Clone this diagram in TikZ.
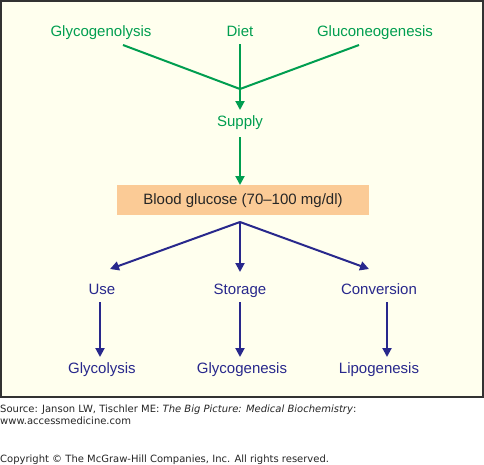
\documentclass[tikz,border=0pt]{standalone}
\usepackage{fontspec}
\setmainfont{Liberation Sans}
\newfontfamily\verd{DejaVu Sans}
\usetikzlibrary{arrows.meta}
\definecolor{gr}{RGB}{0,158,80}
\definecolor{bl}{RGB}{40,40,140}
\definecolor{bgy}{RGB}{255,255,238}
\definecolor{peach}{RGB}{251,203,150}
\definecolor{frm}{RGB}{50,50,50}
\begin{document}
\begin{tikzpicture}[x=1pt,y=-1pt,
  gtxt/.style={text=gr,font=\fontsize{15}{17}\selectfont,inner sep=1pt,anchor=base},
  btxt/.style={text=bl,font=\fontsize{15}{17}\selectfont,inner sep=1pt,anchor=base},
  garr/.style={draw=gr,line width=2pt,-{Triangle[length=9pt,width=9pt]}},
  gline/.style={draw=gr,line width=2pt},
  barr/.style={draw=bl,line width=2pt,-{Triangle[length=9pt,width=9pt]}},
  note/.style={anchor=base west,font=\verd\fontsize{10}{12}\selectfont,inner sep=0pt,text=black!85}]
\useasboundingbox (0,0) rectangle (484,464);
\fill[white] (0,0) rectangle (484,464);
\draw[frm,line width=2pt,fill=bgy] (1,1) rectangle (483,397);
% top
\node[gtxt] (glgn) at (101,36) {Glycogenolysis};
\node[gtxt] (diet) at (240,36) {Diet};
\node[gtxt] (glng) at (375,36) {Gluconeogenesis};
\coordinate (a1) at (123,45);
\coordinate (a2) at (359,45);
\coordinate (a3) at (240,44);
\coordinate (j) at (240,89);
\coordinate (s1) at (240,110);
\node[gtxt] (sup) at (240,126) {Supply};
\draw[gline] (a1) -- (j) -- (a2);
\draw[garr] (a3) -- (s1);
\node[draw=none,fill=peach,minimum width=252pt,minimum height=30pt,inner sep=0pt,
  font=\fontsize{15}{17}\selectfont,text=black!85,text height=11pt,text depth=3pt] (bg) at (243,200) {Blood glucose (70–100 mg/dl)};
\coordinate (s0) at (240,137);
\coordinate (s2) at (240,185);
\draw[garr] (s0) -- (s2);
% bottom
\coordinate (k) at (240,222);
\node[btxt] (use) at (102,294) {Use};
\node[btxt] (sto) at (240,294) {Storage};
\node[btxt] (con) at (379,294) {Conversion};
\coordinate (t1) at (110,269);
\coordinate (t2) at (240,272);
\coordinate (t3) at (369,269);
\draw[barr] (k) -- (t1);
\draw[barr] (k) -- (t2);
\draw[barr] (k) -- (t3);
\node[btxt] (gly) at (102,373) {Glycolysis};
\node[btxt] (glg) at (242,373) {Glycogenesis};
\node[btxt] (lip) at (379,373) {Lipogenesis};
\coordinate (u0) at (100,302); \coordinate (u1) at (100,357);
\coordinate (v0) at (240,302); \coordinate (v1) at (240,357);
\coordinate (w0) at (387,302); \coordinate (w1) at (387,357);
\draw[barr] (u0) -- (u1);
\draw[barr] (v0) -- (v1);
\draw[barr] (w0) -- (w1);
% notes
\node[note] (n1) at (0,412) {Source: Janson LW, Tischler ME: \textit{The Big Picture: Medical Biochemistry}:};
\node[note] (n2) at (0,424) {www.accessmedicine.com};
\node[note] (n3) at (0,462) {Copyright © The McGraw-Hill Companies, Inc. All rights reserved.};
\end{tikzpicture}
\end{document}
